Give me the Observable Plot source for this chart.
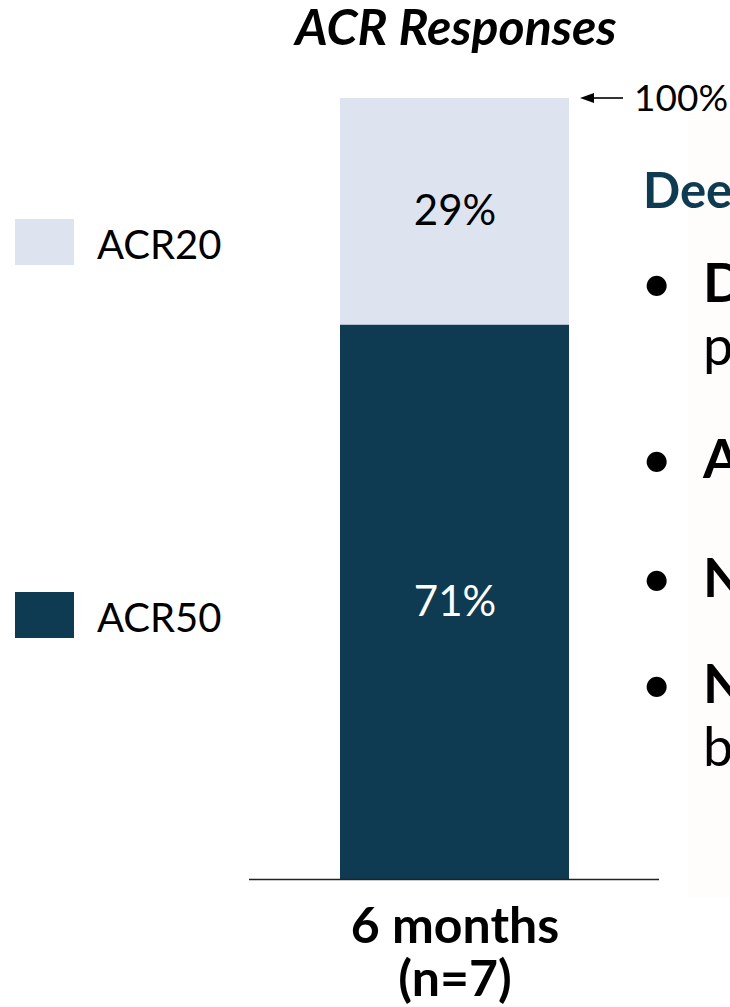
<!DOCTYPE html>
<html><head><meta charset="utf-8">
<script src="https://cdn.jsdelivr.net/npm/d3@7"></script>
<script src="https://cdn.jsdelivr.net/npm/@observablehq/plot@0.6"></script>
<style>
html,body{margin:0;padding:0;background:#fff;overflow:hidden;}
#wrap{position:relative;width:730px;height:1007px;overflow:hidden;font-family:Lato,sans-serif;}
#wrap > svg{position:absolute;left:0;top:0;}
</style></head><body><div id="wrap"></div>
<script>
// ---- data ----
const categories = ["6 months\n(n=7)"];
const series = ["ACR50", "ACR20"];          // bottom to top
const values = [71, 29];
const legendOrder = ["ACR20", "ACR50"];
const seriesColors = ["#0e3b51", "#dee4ef"];
const titleText = "ACR Responses";
const topLabel = "100%";
const panelHeading = "Dee";
const panelLines = [["•", "D", true], ["", "p", false], ["•", "A", true], ["•", "N", true], ["•", "N", true], ["", "b", false]];

const data = series.map((s, i) => ({category: categories[0], series: s, value: values[i]}));

const chart = Plot.plot({
  width: 730, height: 1007,
  marginTop: 98, marginBottom: 128, marginLeft: 249, marginRight: 71,
  style: {fontFamily: "Lato, sans-serif", background: "transparent", color: "#000", overflow: "visible"},
  x: {domain: categories, padding: 0.2833, label: null},
  y: {domain: [0, 100], axis: null},
  color: {domain: series, range: seriesColors},
  marks: [
    Plot.barY(data, {x: "category", y: "value", fill: "series"}),
    Plot.text(data, Plot.stackY({x: "category", y: "value", text: d => d.series === "ACR50" ? d.value + "%" : null, fill: "#ffffff", fontSize: 42})),
    Plot.text(data, Plot.stackY({x: "category", y: "value", text: d => d.series === "ACR20" ? d.value + "%" : null, fill: "#000000", fontSize: 42})),
    Plot.ruleY([0], {stroke: "#222", strokeWidth: 1.5}),
    Plot.axisX({tickSize: 0, tickPadding: 26, fontSize: 50, fontWeight: "bold", lineHeight: 1.06, fill: "#000", label: null})
  ]
});

const wrap = document.getElementById("wrap");
const NS = "http://www.w3.org/2000/svg";

// faint background panel (behind chart)
const bg = document.createElementNS(NS, "svg");
bg.setAttribute("width", 730); bg.setAttribute("height", 1007);
bg.innerHTML = `<rect x="688" y="113" width="42" height="785" fill="#fefdfc"/>`;
wrap.appendChild(bg);
wrap.appendChild(chart);

// overlay texts
const yS = chart.scale("y");
const y100 = yS.apply(100);
const ov = document.createElementNS(NS, "svg");
ov.setAttribute("width", 730); ov.setAttribute("height", 1007);
ov.style.fontFamily = "Lato, sans-serif";
let html = "";
html += `<text x="456" y="45" text-anchor="middle" font-size="50" font-weight="bold" font-style="italic" fill="#000">${titleText}</text>`;
// legend
const legendY = [219, 592];
legendOrder.forEach((s, i) => {
  const c = seriesColors[series.indexOf(s)];
  html += `<rect x="15" y="${legendY[i]}" width="59" height="46" fill="${c}"/>`;
  html += `<text x="97" y="${legendY[i] + 40}" font-size="40" fill="#000">${s}</text>`;
});
// 100% arrow
html += `<line x1="592" y1="${y100}" x2="623" y2="${y100}" stroke="#000" stroke-width="1.6"/>`;
html += `<path d="M580,${y100} L594,${y100 - 5} L594,${y100 + 5} Z" fill="#000"/>`;
html += `<text x="634" y="${y100 + 13}" font-size="37" fill="#000">${topLabel}</text>`;
// panel
html += `<text x="643" y="208" font-size="49" font-weight="bold" fill="#0f3b52">${panelHeading}</text>`;
const baselines = [302, 365, 478, 597, 703, 766];
panelLines.forEach(([b, t, bold], i) => {
  if (b) html += `<text x="641" y="${baselines[i]}" font-size="54" fill="#000">${b}</text>`;
  html += `<text x="703" y="${baselines[i]}" font-size="54" ${bold ? 'font-weight="bold"' : ''} fill="#000">${t}</text>`;
});
ov.innerHTML = html;
wrap.appendChild(ov);
</script></body></html>
